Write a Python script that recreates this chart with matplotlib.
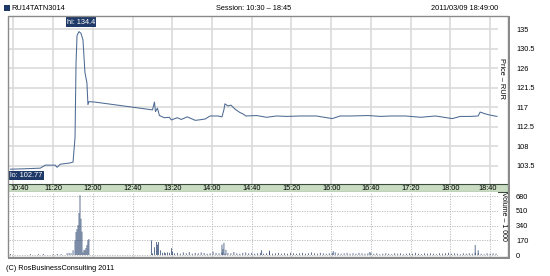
import numpy as np
import matplotlib
matplotlib.use('Agg')
import matplotlib.pyplot as plt
from matplotlib.patches import Rectangle

plt.rcParams['font.family'] = ['Liberation Sans', 'DejaVu Sans']

W, H = 550, 276

# --- data ---
price_times = ["10:37", "10:50", "11:07", "11:12", "11:22", "11:24", "11:27", "11:37", "11:40",
               "11:42", "11:43", "11:44", "11:46", "11:48", "11:50", "11:52", "11:54", "11:55",
               "11:56", "12:02", "13:00", "13:02", "13:03", "13:05", "13:07", "13:12", "13:17",
               "13:19", "13:25", "13:29", "13:35", "13:39", "13:43", "13:47", "13:53", "13:58",
               "14:06", "14:10", "14:12", "14:13", "14:16", "14:19", "14:23", "14:28", "14:31",
               "14:34", "14:45", "14:55", "15:05", "15:15", "15:29", "15:45", "16:01", "16:09",
               "16:20", "16:37", "16:50", "17:00", "17:15", "17:30", "17:45", "18:02", "18:10",
               "18:20", "18:28", "18:30", "18:35", "18:40", "18:47"]
prices = [102.77, 102.85, 103.0, 103.7, 103.7, 103.2, 103.9, 104.2, 104.4,
          110.0, 127.0, 133.5, 134.4, 134.0, 132.5, 125.0, 122.6, 117.6,
          118.3, 118.2, 116.4, 118.2, 116.0, 116.8, 115.1, 114.6, 114.7,
          114.1, 114.6, 114.2, 114.8, 114.4, 114.0, 114.1, 114.3, 115.0,
          115.0, 114.8, 116.5, 117.8, 117.3, 117.5, 116.6, 115.8, 115.5,
          115.0, 115.1, 114.7, 115.0, 114.9, 115.0, 115.0, 114.4, 115.0,
          115.0, 115.1, 114.9, 115.0, 115.0, 114.7, 115.0, 114.4, 114.9,
          114.9, 115.0, 115.9, 115.5, 115.2, 114.9]

vol_times = ["10:37", "10:57", "11:05", "11:10", "11:20", "11:24", "11:28", "11:34", "11:36",
             "11:38", "11:40", "11:42", "11:43", "11:44", "11:45", "11:46", "11:47", "11:48",
             "11:49", "11:50", "11:51", "11:52", "11:53", "11:54", "11:55", "11:56",
             "12:59", "13:00", "13:02", "13:04", "13:05", "13:06", "13:08", "13:10", "13:12",
             "13:13", "13:15", "13:17", "13:19", "13:20", "14:10", "14:11", "14:12", "14:14",
             "14:50", "14:58", "16:02", "16:39", "18:25", "18:28"]
vol_values = [12, 10, 10, 12, 10, 12, 10, 20, 25,
              20, 55, 170, 265, 300, 345, 485, 690, 420,
              270, 30, 60, 55, 80, 115, 170, 185,
              170, 20, 90, 150, 120, 150, 55, 25, 30,
              20, 30, 25, 80, 40, 120, 70, 140, 60,
              55, 50, 45, 35, 115, 55]
# small afternoon trades, every 3 minutes from 13:22
small_start = "13:22"
small_vol = [20, 25, 15, 30, 20, 35, 15, 25, 20, 30, 25, 15, 20, 40, 25, 20, 30, 15, 25, 20,
             35, 20, 15, 25, 30, 20, 25,
             15, 20, 25, 15, 20, 30, 15, 20, 25, 15, 20, 15, 25, 20, 15, 20, 25, 15, 20, 30,
             20, 15, 25, 20, 15, 20, 25, 30, 20, 15, 20, 25, 15, 20, 15, 25, 20, 15, 20, 25,
             15, 20, 10, 15, 20, 15, 10, 20, 15, 20, 10, 15, 20, 15, 25, 15, 10, 20, 15, 20,
             15, 10, 20, 15, 20, 25, 15, 20, 15, 10, 20, 15, 20, 15, 25, 20, 15, 10, 20, 15,
             20, 15]

time_ticks = ["10:40", "11:20", "12:00", "12:40", "13:20", "14:00", "14:40", "15:20",
              "16:00", "16:40", "17:20", "18:00", "18:40"]
price_ticks = [103.5, 108, 112.5, 117, 121.5, 126, 130.5, 135]
vol_ticks = [0, 170, 340, 510, 680]


def tm(s):
    h, m = s.split(':')
    return int(h) * 60 + int(m)


def box(x0, y0, x1, y1):
    return [x0 / W, 1 - y1 / H, (x1 - x0) / W, (y1 - y0) / H]


pt = np.array([tm(t) for t in price_times])
vt = np.array([tm(t) for t in vol_times])
st = tm(small_start) + 3 * np.arange(len(small_vol))
xt = [tm(t) for t in time_ticks]
xmin, xmax = tm("10:35") + 0.5, tm("18:48")

fig = plt.figure(figsize=(W / 100, H / 100), dpi=100)
navy = '#1f3a68'
fs = 5.3

# outer frame
fig.patches.append(Rectangle((8 / W, 1 - 257 / H), 500 / W, 241 / H, transform=fig.transFigure,
                             fill=False, edgecolor='#8a8a8a', lw=1.0))
fig.patches.append(Rectangle((508 / W, 1 - 258 / H), 1.5 / W, 242 / H, transform=fig.transFigure,
                             facecolor='#8a8a8a', edgecolor='none'))
fig.patches.append(Rectangle((8 / W, 1 - 258.5 / H), 501.5 / W, 1.5 / H, transform=fig.transFigure,
                             facecolor='#8a8a8a', edgecolor='none'))

# price panel
ax = fig.add_axes(box(9, 17, 498, 184))
ax.plot(pt, prices, color='#4d6a93', lw=0.75)
ax.set_xlim(xmin, xmax)
ax.set_ylim(99.36, 137.76)
ax.set_xticks(xt)
ax.set_yticks(price_ticks)
ax.grid(True, color='#dadada', lw=1.2)
ax.set_axisbelow(True)
ax.tick_params(length=0, labelbottom=False, labelleft=False, labelright=True,
               labelsize=fs, pad=13)
ax.set_yticklabels([f'{v:g}' for v in price_ticks])
for s in ax.spines.values():
    s.set_visible(False)
ip = int(np.argmax(prices))
ax.text(pt[ip] + 2, 136.6, f'hi: {prices[ip]:g}', ha='center', va='center', color='white',
        fontsize=fs, bbox=dict(boxstyle='square,pad=0.15', fc=navy, ec='none'))
ilo = int(np.argmin(prices))
ax.text(xmin + 1.5, 101.4, f'lo: {prices[ilo]:g}', ha='left', va='center', color='white',
        fontsize=fs, bbox=dict(boxstyle='square,pad=0.15', fc=navy, ec='none'))
fig.text(502 / W, 1 - 79 / H, 'Price – RUR', rotation=-90, ha='center', va='center', fontsize=fs)

# time band
band = fig.add_axes(box(8, 184, 508, 192))
band.set_facecolor('#c8dcc2')
band.set_xticks([])
band.set_yticks([])
for s in band.spines.values():
    s.set_color('#3a4a3a')
    s.set_linewidth(0.8)
band.spines['left'].set_visible(False)
band.spines['right'].set_visible(False)
for t, lab in zip(xt, time_ticks):
    xf = (9 + (t - xmin) / (xmax - xmin) * 489)
    if lab == time_ticks[0]:
        fig.text(10 / W, 1 - 188.5 / H, lab, ha='left', va='center', fontsize=fs)
    elif lab == time_ticks[-1]:
        fig.text(497 / W, 1 - 188.5 / H, lab, ha='right', va='center', fontsize=fs)
    else:
        fig.text(xf / W, 1 - 188.5 / H, lab, ha='center', va='center', fontsize=fs)

# volume panel
av = fig.add_axes(box(9, 192, 498, 257))
av.bar(vt, vol_values, width=0.7, color=navy, lw=0, snap=False)
av.bar(st, small_vol, width=0.7, color=navy, lw=0, snap=False)
av.set_xlim(xmin, xmax)
av.set_ylim(-23, 728)
av.set_xticks(xt)
av.set_yticks(vol_ticks)
av.grid(True, color='#b4b4b4', lw=0.6, linestyle=(0, (1.5, 1.5)))
av.set_axisbelow(True)
av.tick_params(length=0, labelbottom=False, labelleft=False, labelright=True,
               labelsize=fs, pad=13)
for s in av.spines.values():
    s.set_visible(False)
fig.text(503 / W, 1 - 216 / H, 'Volume – 1 000', rotation=-90, ha='center', va='center', fontsize=5.0)

# header and footer
fig.patches.append(Rectangle((4 / W, 1 - 11 / H), 6 / W, 6 / H, transform=fig.transFigure,
                             facecolor=navy, edgecolor='none'))
fig.text(11 / W, 1 - 8 / H, 'RU14TATN3014', ha='left', va='center', fontsize=fs)
fig.text(254 / W, 1 - 8 / H, 'Session: 10:30 – 18:45', ha='center', va='center', fontsize=fs)
fig.text(498 / W, 1 - 8 / H, '2011/03/09 18:49:00', ha='right', va='center', fontsize=fs)
fig.text(6 / W, 1 - 268 / H, '(C) RosBusinessConsulting 2011', ha='left', va='center', fontsize=fs)

fig.savefig('out.png', dpi=100)
